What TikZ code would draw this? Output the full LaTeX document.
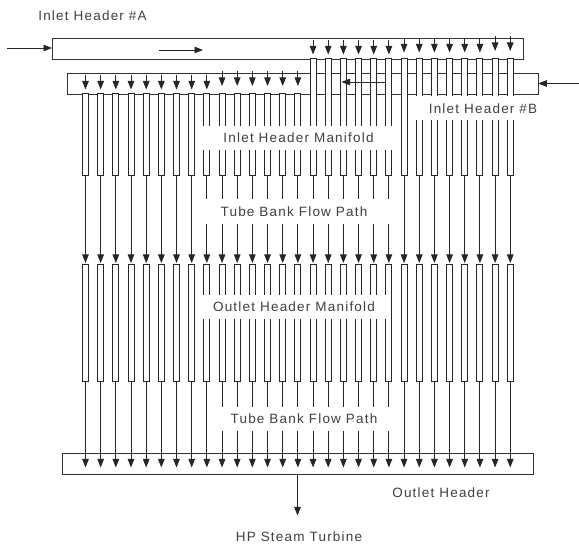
\documentclass[tikz,border=0pt]{standalone}
\usepackage{fontspec}
\setmainfont{Liberation Sans}[LetterSpace=9]
\usetikzlibrary{arrows.meta,calc}
\definecolor{linegray}{gray}{0.2}
\definecolor{textgray}{gray}{0.25}
\tikzset{
  hdr/.style ={rectangle, draw=linegray, fill=white, line width=1pt, outer sep=0pt, inner sep=0pt},
  tube/.style={rectangle, draw=black!85, fill=white, line width=1pt, outer sep=0pt, inner sep=0pt,
               minimum width=6pt},
  flow/.style={-{Triangle[length=8.5pt,width=6.5pt]}, line width=0.9pt, draw=black!85},
  lbl/.style ={fill=white, text=textgray, inner sep=0pt, font=\fontsize{13.5}{15}\selectfont},
  tag/.style ={text=textgray, inner sep=0pt, font=\fontsize{13.5}{15}\selectfont},
}
\begin{document}
\begin{tikzpicture}[x=1pt,y=-1pt]
  \useasboundingbox (0,0) rectangle (579,545);
  % headers
  \node[hdr, minimum width=471pt, minimum height=21pt] (hdrB) at (302.75,83.75) {};
  \node[hdr, minimum width=471pt, minimum height=21pt] (hdrA) at (287.5,48.75) {};
  \node[hdr, minimum width=471pt, minimum height=21pt] (hdrOut) at (298,463.75) {};
  % upper tubes, B side then A side
  \foreach \i in {1,...,29} {
    \pgfmathsetmacro{\tx}{85.5+(\i-1)*15.17}
    \ifnum\i<16
      \node[tube, minimum height=82pt] (up\i) at (\tx,135) {};
    \else
      \node[tube, minimum height=117pt] (up\i) at (\tx,117.5) {};
    \fi
    \node[tube, minimum height=117.5pt] (lo\i) at (\tx,323.25) {};
    \draw[flow] (up\i.south) -- ($(lo\i.north)+(0,-1.5)$);
    \draw[flow] (lo\i.south) -- (\tx,467.5);
    \ifnum\i<16
      \pgfmathsetmacro{\ty}{\i<10 ? 75 : 71.5}
      \draw[flow] (\tx,\ty) -- ++(0,14.5);
    \else
      \pgfmathsetmacro{\ty}{\i<22 ? 40 : (\i<28 ? 38 : 36.5)}
      \draw[flow] (\tx,\ty) -- ++(0,14.5);
    \fi
  }
  % labels
  \node[lbl, minimum width=193pt, minimum height=24pt] (mfIn) at (298.5,138) {Inlet Header Manifold};
  \node[lbl, minimum width=131pt, minimum height=24pt] (hdB) at (474.5,108.5) {\hspace*{17pt}Inlet Header \#B};
  \node[lbl, minimum width=186pt, minimum height=24pt] (mfOut) at (296,307) {\hspace*{-4pt}Outlet Header Manifold};
  \node[lbl, minimum width=194pt, minimum height=25pt] (pathUp) at (294,211.5) {Tube Bank Flow Path};
  \node[lbl, minimum width=178pt, minimum height=24pt] (pathLo) at (304,419) {Tube Bank Flow Path};
  \node[tag] (hdA) at (92.5,16) {Inlet Header \#A};
  \node[tag] (hdOut) at (441,493) {Outlet Header};
  \node[tag] (turb) at (299,536.5) {HP Steam Turbine};
  % inlets and outlet
  \draw[flow] (7,48) -- (hdrA.west |- 0,48);
  \draw[flow] (159,50) -- (203,50);
  \draw[flow] (579,83.5) -- (hdrB.east |- 0,83.5);
  \draw[flow] (385,82) -- (341.5,82);
  \draw[flow] (297.5,474.25) -- (297.5,515.5);
\end{tikzpicture}
\end{document}
